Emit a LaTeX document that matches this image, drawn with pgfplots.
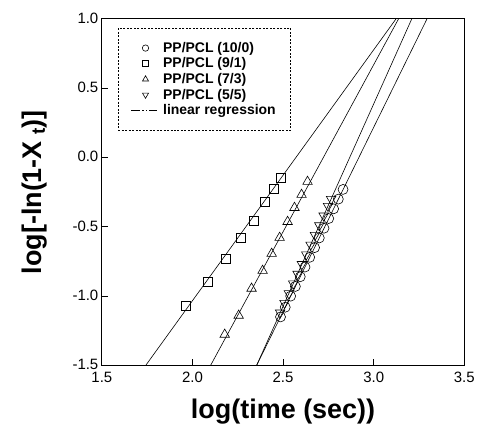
\documentclass[border=0pt]{standalone}
\usepackage{fontspec}
\setmainfont{Liberation Sans}
\usepackage{pgfplots}
\pgfplotsset{compat=1.18}
\pgfplotsset{reglegend/.style={legend image code/.code={\draw[##1] (-0.2cm,0cm) -- (0.7cm,0cm);}}}

\begin{document}
\begin{tikzpicture}
\begin{axis}[name=ax,scale only axis,width=363bp,height=347bp,
 xmin=1.5,xmax=3.5,ymin=-1.5,ymax=1.0,
 xtick={1.5,2.0,...,3.5},ytick={-1.5,-1.0,...,1.0},
 xticklabels={1.5,2.0,2.5,3.0,3.5},yticklabels={-1.5,-1.0,-0.5,0.0,0.5,1.0},
 tick pos=left,tick align=inside,major tick length=6bp,
 axis line style={line width=1bp},tick style={line width=1bp,black},
 ticklabel style={font=\fontsize{15bp}{16bp}\selectfont},
 xticklabel style={yshift=-3bp},
 yticklabel style={yshift=1bp},
 xlabel={\bfseries log(time (sec))},
 ylabel={\bfseries log[-ln(1-X\textsubscript{\,\,t})]},
 label style={font=\fontsize{27bp}{30bp}\selectfont},
 xlabel style={yshift=-10bp},
 ylabel style={yshift=19bp},
 legend cell align=left,
 legend style={at={(0.044,0.974)},anchor=north west,
  font=\bfseries\fontsize{14bp}{15bp}\selectfont,
  draw=black,line width=0.6bp,dash pattern=on 2bp off 1.5bp,
  inner xsep=13bp,inner ysep=12bp,row sep=0bp,column sep=4bp},
 clip=true]

% legend images
\addlegendimage{only marks,mark=o,mark size=3.2bp,mark options={solid,line width=0.6bp}}
\addlegendentry{PP/PCL (10/0)}
\addlegendimage{only marks,mark=square,mark size=3bp,mark options={solid,line width=0.6bp}}
\addlegendentry{PP/PCL (9/1)}
\addlegendimage{only marks,mark=triangle,mark size=3.5bp,mark options={solid,line width=0.6bp}}
\addlegendentry{PP/PCL (7/3)}
\addlegendimage{only marks,mark=triangle,mark size=3.5bp,mark options={solid,rotate=180,line width=0.6bp}}
\addlegendentry{PP/PCL (5/5)}
\addlegendimage{reglegend,line width=0.6bp,dash pattern=on 9bp off 2bp on 1.5bp off 2bp on 1.5bp off 2bp}
\addlegendentry{linear regression}

% regression lines
\addplot[forget plot,black,line width=0.6bp] coordinates {(1.742,-1.5)(3.123,1.0)};
\addplot[forget plot,black,line width=0.6bp] coordinates {(2.100,-1.5)(3.137,1.0)};
\addplot[forget plot,black,line width=0.6bp] coordinates {(2.354,-1.5)(3.210,1.0)};
\addplot[forget plot,black,line width=0.6bp] coordinates {(2.354,-1.5)(3.294,1.0)};

% PP/PCL (9/1)
\addplot[forget plot,only marks,mark=square,mark size=4.5bp,mark options={line width=0.6bp}] coordinates {
(1.963,-1.068)(2.084,-0.895)(2.183,-0.729)(2.266,-0.578)(2.337,-0.455)(2.398,-0.318)(2.448,-0.225)(2.486,-0.146)};
% PP/PCL (7/3)
\addplot[forget plot,only marks,mark=triangle,mark size=5.5bp,mark options={line width=0.6bp}] coordinates {
(2.178,-1.277)(2.255,-1.140)(2.326,-0.945)(2.387,-0.816)(2.437,-0.693)(2.481,-0.578)(2.525,-0.463)(2.563,-0.362)(2.602,-0.268)(2.635,-0.174)};
% PP/PCL (5/5)
\addplot[forget plot,only marks,mark=triangle,mark size=5.5bp,mark options={rotate=180,line width=0.6bp}] coordinates {
(2.484,-1.12)(2.508,-1.05)(2.532,-0.98)(2.556,-0.91)(2.580,-0.84)(2.604,-0.77)(2.628,-0.70)(2.652,-0.63)(2.676,-0.56)(2.700,-0.49)(2.724,-0.42)(2.748,-0.35)(2.765,-0.30)};
% PP/PCL (10/0)
\addplot[forget plot,only marks,mark=o,mark size=5bp,mark options={line width=0.6bp}] coordinates {
(2.486,-1.15)(2.512,-1.08)(2.542,-1.00)(2.568,-0.93)(2.595,-0.86)(2.621,-0.79)(2.647,-0.72)(2.674,-0.65)(2.700,-0.58)(2.726,-0.51)(2.752,-0.44)(2.779,-0.37)(2.805,-0.30)(2.831,-0.23)};
\end{axis}
\path[use as bounding box] ([xshift=-102bp,yshift=-81bp]ax.south west) rectangle ([xshift=13bp,yshift=19bp]ax.north east);
\end{tikzpicture}
\end{document}
